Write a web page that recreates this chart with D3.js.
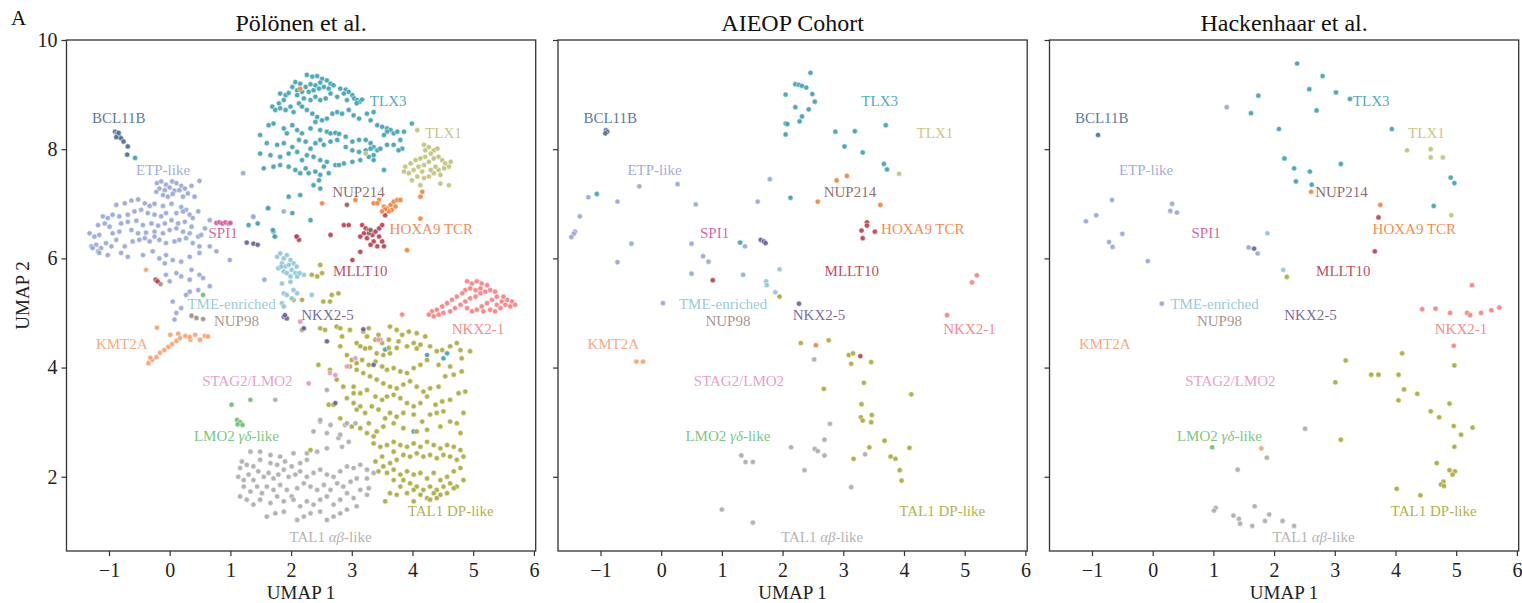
<!DOCTYPE html>
<html>
<head>
<meta charset="utf-8">
<script src="https://cdn.jsdelivr.net/npm/d3@7"></script>
<style>
  html, body { margin: 0; padding: 0; background: #ffffff; }
  svg text { font-family: "Liberation Serif", "Times New Roman", serif; }
</style>
</head>
<body>
<svg id="chart" width="1522" height="603"></svg>
<script>
// ---- axis ticks and titles ----
const xTicks = [-1, 0, 1, 2, 3, 4, 5, 6];
const yTicks = [2, 4, 6, 8, 10];
const panelTitles = ["Pölönen et al.", "AIEOP Cohort", "Hackenhaar et al."];

// ---- subtypes, colours and label anchors (UMAP units) ----
const subtypes = ["ETP-like", "BCL11B", "TLX3", "TLX1", "NUP214", "HOXA9 TCR", "MLLT10", "SPI1",
  "TME-enriched", "NUP98", "NKX2-5", "NKX2-1", "KMT2A", "STAG2/LMO2", "LMO2 γδ-like",
  "TAL1 DP-like", "TAL1 αβ-like"];
const subtypeColors = ["#97a5d5", "#4b6b91", "#3f9fb1", "#bfc17a", "#86605e", "#f2803f", "#b93b4d",
  "#d2549b", "#8dc5d6", "#a48b82", "#6b5a9b", "#f57d80", "#f6a070", "#ea95bc", "#6cbf6f",
  "#a8a93b", "#ababab"];
const labelX = [-0.11, -0.84, 3.60, 4.51, 3.11, 4.31, 3.14, 0.88, 1.02, 1.10, 2.60, 5.08, -0.79, 1.28, 1.10, 4.63, 2.65];
const labelY = [7.62, 8.58, 8.88, 8.29, 7.22, 6.54, 5.77, 6.47, 5.16, 4.85, 4.96, 4.70, 4.43, 3.75, 2.75, 1.38, 0.90];

// ---- Pölönen et al. embedding ----
const p1ETP = [[-0.21,7.38],[-0.14,7.41],[-0.06,7.35],[0.04,7.41],[0.11,7.38],[0.19,7.33],[0.25,7.28],[0.36,7.33],[0.49,7.42],[-0.17,7.28],[-0.08,7.25],[0.00,7.30],[0.08,7.24],[0.16,7.25],[0.30,7.19],[-0.11,7.16],[-0.03,7.13],[0.05,7.18],[0.22,7.13],[0.41,7.13],[-0.22,7.22],
[-0.88,6.98],[-0.74,7.01],[-0.63,7.06],[-0.52,7.08],[-0.41,7.01],[-0.33,6.96],[-0.25,7.00],[-0.11,6.96],[0.03,7.00],[0.19,6.94],[0.27,6.89],[0.47,6.86],
[-1.10,6.77],[-1.02,6.74],[-0.94,6.80],[-0.83,6.77],[-0.69,6.80],[-0.58,6.86],[-0.47,6.89],[-0.36,6.83],[-0.25,6.80],[-0.14,6.77],[-0.06,6.83],[0.11,6.83],[0.22,6.86],[0.33,6.80],[0.38,6.74],
[-1.18,6.61],[-1.07,6.64],[-0.99,6.58],[-0.80,6.64],[-0.69,6.67],[-0.55,6.69],[-0.44,6.61],[-0.30,6.64],[-0.19,6.60],[-0.08,6.64],[0.03,6.70],[0.14,6.64],[0.25,6.67],[0.36,6.58],
[-1.32,6.46],[-1.24,6.40],[-1.16,6.43],[-0.94,6.46],[-0.83,6.49],[-0.63,6.52],[-0.52,6.46],[-0.39,6.47],[-0.25,6.49],[-0.11,6.46],[0.00,6.52],[0.11,6.55],[0.22,6.49],[0.33,6.46],[0.47,6.40],[0.58,6.55],[0.66,6.70],[0.52,6.43],
[-1.29,6.22],[-1.21,6.25],[-1.18,6.13],[-1.13,6.19],[-1.05,6.28],[-0.96,6.22],[-0.88,6.34],[-0.74,6.22],[-0.61,6.31],[-0.50,6.34],[-0.41,6.37],[-0.33,6.31],[-0.25,6.40],[-0.17,6.34],[-0.06,6.28],[0.08,6.31],[0.16,6.34],[0.27,6.37],[0.38,6.28],[0.49,6.22],
[-1.02,6.06],[-0.80,6.10],[-0.69,6.03],[-0.44,6.06],[-0.28,6.13],[-0.17,6.00],[-0.06,6.06],[0.05,5.97],[0.19,5.94],[0.33,6.03],[0.49,6.10],[0.66,6.22],[0.77,6.13],[-0.08,5.91],[0.99,5.97],[-1.27,6.19],[-1.16,6.10],
[-0.06,5.70],[0.00,5.58],[0.11,5.73],[0.19,5.67],[0.33,5.61],[0.36,5.79],[0.49,5.70],[0.55,5.64],[0.66,5.49],[0.47,5.42],[0.33,5.39],[0.27,5.33],[0.05,5.21],[0.19,5.09],[0.11,5.00],[0.08,4.88],
[1.56,5.61],[1.37,6.77],[1.21,7.56],[1.63,6.92],[1.88,6.86],[1.38,6.76]];
const p1BCL11B = [[-0.90,8.32],[-0.87,8.28],[-0.86,8.26],[-0.83,8.23],[-0.88,8.22],[-0.80,8.20],[-0.84,8.30],[-0.76,8.14],[-0.69,8.05],[-0.70,7.90]];
const p1TLX3 = [[2.26,9.36],[2.35,9.33],[2.43,9.34],[2.51,9.29],[2.59,9.26],[2.65,9.20],[2.48,9.22],[2.40,9.17],[2.32,9.19],[2.24,9.14],[2.15,9.20],[2.07,9.23],[2.02,9.14],[2.10,9.08],[2.18,9.05],[2.29,9.05],[2.37,9.08],[2.46,9.11],[2.54,9.14],[2.62,9.11],[2.70,9.17],[2.81,9.11],[2.90,9.09],[2.95,9.05],[3.01,8.99],[3.04,8.93],[3.09,8.90],[3.13,8.87],[3.17,8.91],[3.08,8.84],
[1.82,9.02],[1.91,8.99],[1.96,9.03],[1.88,8.90],[1.80,8.84],[1.69,8.78],[1.74,8.72],[1.82,8.75],[1.91,8.72],[1.99,8.78],[2.04,8.68],[2.13,8.84],[2.21,8.93],[2.32,8.90],[2.40,8.96],[2.48,8.90],[2.57,8.93],[2.65,9.02],[2.76,8.96],[2.87,9.02],[2.92,8.90],[2.10,8.99],
[2.18,8.78],[2.26,8.72],[2.35,8.65],[2.43,8.59],[2.51,8.53],[2.59,8.56],[2.68,8.65],[2.76,8.68],[2.84,8.65],[2.95,8.72],[3.03,8.62],[3.12,8.56],[3.25,8.65],[3.31,8.53],[3.36,8.68],[3.42,8.44],[3.50,8.41],[3.58,8.38],[3.64,8.35],[3.69,8.29],[3.58,8.32],[3.53,8.26],[3.75,8.32],[3.80,8.17],[3.83,8.01],[3.77,7.98],[3.69,8.08],[3.99,8.47],[3.86,8.32],
[1.71,8.47],[1.63,8.44],[1.88,8.38],[1.93,8.29],[2.02,8.44],[2.10,8.35],[2.18,8.29],[2.32,8.38],[2.40,8.50],[2.48,8.35],[2.59,8.32],[2.65,8.29],[2.73,8.30],[2.79,8.28],[2.90,8.23],[3.01,8.14],[3.12,8.17],[3.23,8.17],[3.31,8.11],[3.36,8.04],[3.42,7.98],[3.36,7.89],[3.28,7.86],[3.36,7.80],[3.47,8.01],[3.58,8.08],
[1.49,8.26],[1.60,8.11],[1.77,8.08],[1.88,8.11],[2.02,8.04],[2.13,8.17],[2.24,8.14],[2.32,8.01],[2.40,8.11],[2.48,8.17],[2.54,8.08],[2.65,8.14],[2.76,8.17],[2.90,8.04],[3.01,7.98],[3.12,7.95],[3.23,7.98],[3.31,8.01],
[1.49,7.92],[1.66,7.89],[1.82,7.86],[1.96,7.92],[2.10,7.95],[2.18,7.80],[2.26,7.89],[2.37,7.86],[2.48,7.80],[2.59,7.77],[2.73,7.71],[2.79,7.71],[2.87,7.74],[3.01,7.77],[3.14,7.80],[3.53,7.62],
[1.55,7.65],[1.71,7.68],[1.82,7.71],[1.96,7.68],[2.07,7.62],[2.15,7.56],[2.24,7.65],[2.29,7.56],[2.40,7.59],[2.48,7.53],[2.54,7.68],[2.62,7.56],[2.46,7.43],[2.37,7.34],[2.48,7.28],
[1.96,7.13],[2.15,7.16],[2.02,6.83],[1.71,6.49],[1.74,6.40],[2.10,6.40],[2.32,6.70],[1.30,6.61],
[-0.57,7.84],[1.45,6.64],[1.70,6.52],[1.73,6.40],[1.62,6.92],
[3.55,4.33],[4.24,4.23],[4.51,4.17],[4.57,4.26],[4.02,2.83]];
const p1TLX1 = [[4.08,8.35],[4.19,8.08],[4.27,8.04],[4.35,7.98],[4.30,7.92],[4.21,7.86],[4.13,7.83],[4.05,7.80],[3.97,7.74],[3.88,7.68],[3.86,7.59],[3.94,7.56],[4.02,7.62],[4.10,7.68],[4.19,7.71],[4.27,7.77],[4.35,7.83],[4.43,7.86],[4.49,7.80],[4.54,7.74],[4.60,7.68],[4.63,7.77],[4.52,7.65],[4.43,7.62],[4.35,7.56],[4.27,7.50],[4.19,7.47],[4.08,7.50],[3.99,7.43],[4.46,7.53],[4.38,7.68],[4.30,7.62],[4.16,7.59],[4.46,7.37],[4.60,7.34],[4.13,7.34],[4.21,7.98],[4.41,8.01],[3.23,7.92]];
const p1NUP214 = [[2.92,6.98],[3.28,6.46],[3.31,6.52]];
const p1HOXA9 = [[3.36,7.01],[3.45,7.07],[3.53,6.95],[3.58,6.92],[3.64,6.98],[3.69,7.04],[3.75,7.07],[3.80,7.07],[3.72,6.95],[3.66,6.89],[3.61,6.86],[3.55,6.90],[3.50,6.86],[3.42,7.01],[4.16,7.22],[4.13,7.13],[2.51,7.01],[4.13,6.73],[3.91,6.15],[3.06,7.07],[2.15,9.11]];
const p1MLLT10 = [[3.17,6.61],[3.23,6.55],[3.28,6.52],[3.20,6.46],[3.14,6.40],[3.25,6.37],[3.34,6.43],[3.39,6.49],[3.45,6.55],[3.50,6.61],[3.45,6.40],[3.36,6.31],[3.31,6.25],[3.50,6.31],[3.53,6.22],[3.42,6.22],[3.55,6.79],[2.87,6.61],[2.95,6.61],[2.65,6.43],[2.13,6.34],[3.01,5.97],[3.14,6.12],[-0.23,5.61],[-0.20,5.58],[2.09,6.40]];
const p1SPI1 = [[0.77,6.65],[0.82,6.66],[0.87,6.64],[0.92,6.66],[0.97,6.64],[1.00,6.65]];
const p1TME = [[1.77,6.03],[1.82,6.09],[1.88,6.00],[1.93,6.06],[1.99,5.97],[2.04,5.91],[1.85,5.91],[1.90,5.85],[1.96,5.88],[2.01,5.79],[1.88,5.76],[1.79,5.82],[2.07,5.73],[1.93,5.73],[1.99,5.67],[2.10,5.67],[1.85,5.54],[1.99,5.57],[1.88,5.36],[1.93,5.33],[2.04,5.42],[2.10,5.36],[2.01,5.27],[1.85,5.18],[1.88,5.12],[2.21,5.70],[2.34,5.33],[1.84,5.85],[2.09,5.85],[2.14,5.73]];
const p1NUP98 = [[0.36,4.95],[0.44,4.91],[0.55,4.89],[-0.15,5.53]];
const p1NKX25 = [[1.27,6.29],[1.38,6.27],[1.45,6.25],[1.88,4.93],[1.93,4.90],[1.90,4.96],[2.21,4.72],[3.19,4.70],[3.36,4.05],[2.73,3.35],[2.59,4.48]];
const p1NKX21 = [[4.90,5.58],[4.98,5.54],[5.06,5.58],[5.14,5.54],[5.23,5.51],[5.12,5.45],[5.04,5.42],[4.95,5.45],[4.87,5.42],[4.82,5.36],[4.73,5.30],[4.65,5.24],[4.57,5.18],[4.49,5.12],[4.40,5.06],[4.32,5.03],[4.27,4.97],[4.35,4.94],[4.43,4.97],[4.51,5.00],[4.62,5.03],[4.70,5.09],[4.79,5.15],[4.87,5.21],[4.95,5.27],[5.04,5.30],[5.12,5.36],[5.20,5.39],[5.28,5.42],[5.36,5.39],[5.39,5.30],[5.31,5.24],[5.23,5.18],[5.14,5.12],[5.06,5.06],[4.98,5.03],[4.90,5.09],[5.17,5.03],[5.28,5.06],[5.39,5.15],[5.47,5.21],[5.56,5.24],[5.64,5.21],[5.69,5.15],[5.61,5.12],[5.53,5.15],[5.45,5.09],[5.36,5.03],[5.50,5.30],[3.83,4.97],[3.47,4.51]];
const p1KMT2A = [[-0.35,4.08],[-0.29,4.14],[-0.22,4.19],[-0.16,4.27],[-0.09,4.32],[-0.02,4.38],[0.04,4.43],[0.11,4.49],[0.17,4.54],[0.26,4.58],[0.34,4.51],[0.42,4.60],[0.50,4.51],[0.58,4.58],[-0.21,4.73],[0.01,4.60],[0.14,4.62],[-0.32,4.18],[0.33,4.56],[0.63,4.57],[-0.39,5.79]];
const p1STAG2 = [[2.29,3.71],[2.92,4.02],[3.06,4.17],[2.64,3.90],[2.73,3.86],[3.44,4.51],[2.15,4.84]];
const p1LMO2 = [[1.02,3.32],[1.33,3.41],[1.11,3.04],[1.16,3.00],[1.12,2.96],[1.20,2.95],[0.55,5.33]];
const p1DP = [[2.04,5.24],[2.18,5.24],[2.53,5.21],[2.67,5.33],[2.78,5.36],[2.64,5.21],[2.18,4.69],[2.48,4.72],[2.56,4.69],[2.75,4.75],[2.81,4.72],[2.97,4.69],[2.84,4.57],[3.08,4.45],[3.14,4.39],[3.22,4.35],[3.30,4.36],[3.41,4.26],[3.52,4.23],[3.63,4.26],[3.74,4.36],[3.91,4.39],[4.07,4.35],[2.81,4.39],[2.92,4.23],[3.00,4.14],[3.08,4.08],[3.17,4.14],[3.28,4.05],[3.39,4.11],[3.50,4.02],[3.58,3.96],[3.69,3.99],[3.80,3.93],[3.91,3.90],[4.02,3.99],[4.13,4.05],[4.24,4.14],[4.43,4.05],[4.62,4.02],[4.81,4.17],[4.95,4.30],
[2.97,4.02],[3.08,3.96],[3.19,3.90],[3.30,3.84],[3.41,3.78],[3.52,3.71],[3.63,3.65],[3.74,3.62],[3.85,3.69],[3.96,3.75],[4.07,3.65],[4.18,3.56],[4.29,3.62],[4.43,3.65],[4.54,3.84],[4.68,3.87],[4.81,3.93],[2.64,3.96],[2.45,4.05],[2.75,3.78],[2.86,3.65],[3.03,3.65],[3.14,3.53],[3.25,3.59],[3.39,3.47],[3.50,3.41],[3.58,3.47],[3.69,3.50],[3.80,3.44],[3.91,3.35],[4.02,3.29],[4.13,3.35],[4.24,3.47],[4.38,3.32],[4.49,3.38],[4.62,3.41],[4.76,3.53],[4.87,3.56],
[2.92,3.44],[3.03,3.35],[3.08,3.23],[3.22,3.17],[3.33,3.29],[3.44,3.23],[3.55,3.07],[3.63,3.17],[3.74,3.10],[3.85,3.17],[4.02,3.14],[4.16,3.01],[4.29,3.14],[4.40,3.17],[4.51,3.20],[4.62,3.01],[4.73,2.98],[4.84,3.17],[2.62,3.32],[2.81,3.07],[3.00,2.92],[3.14,2.89],[3.25,2.80],[3.41,2.83],[3.52,2.92],[3.69,2.98],[3.85,2.89],[4.07,2.83],[4.24,2.86],[4.46,2.92],[4.79,2.80],
[3.74,4.69],[3.63,4.75],[3.83,4.60],[3.94,4.66],[4.07,4.63],[4.21,4.57],[3.61,4.51],[3.77,4.48],[4.02,4.45],[3.61,4.36],[3.50,4.45],[3.39,4.51],[3.25,4.57],[3.19,4.66],[3.28,4.72],[3.44,4.60],[4.13,4.42],[4.29,4.39],[4.40,4.30],[4.49,4.32],[4.62,4.39],[4.73,4.45],[4.79,4.32],
[3.36,2.61],[3.47,2.55],[3.58,2.58],[3.69,2.64],[3.80,2.58],[3.91,2.55],[4.02,2.61],[4.13,2.55],[4.24,2.64],[4.35,2.58],[4.46,2.52],[4.57,2.58],[4.68,2.55],[4.79,2.49],[4.84,2.37],[4.73,2.31],[4.62,2.37],[4.51,2.40],[4.40,2.34],[4.29,2.40],[4.18,2.37],[4.07,2.43],[3.96,2.37],[3.85,2.40],[3.74,2.31],[3.63,2.25],[3.52,2.19],[3.44,2.10],[3.58,2.07],[3.69,2.13],[3.80,2.04],[3.91,2.10],[4.02,2.04],[4.13,2.07],[4.24,1.97],[4.35,2.07],[4.46,1.94],[4.57,2.00],[4.68,2.10],[4.79,2.16],[4.84,1.94],[4.73,1.82],[4.62,1.88],[4.51,1.82],[4.40,1.76],[4.29,1.82],[4.18,1.76],[4.07,1.82],[3.96,1.88],[3.85,1.94],[3.80,1.82],[3.69,1.94],[3.63,1.70],[3.74,1.67],[3.91,1.70],[4.02,1.76],[4.13,1.67],[4.24,1.61],[4.35,1.70],[4.46,1.67],[4.57,1.70],[4.68,1.79],[3.55,1.55],[4.02,1.55],[4.29,1.58],[4.40,1.61],[3.39,2.28],[3.50,2.37],[3.69,2.46],
[2.70,3.32],[3.14,3.29],[3.03,3.53],[3.28,2.98],[3.36,2.74],[2.32,2.49],[2.48,5.88],[2.51,5.73],[2.34,5.70],[2.43,5.67]];
const p1AB = [[2.48,3.01],[2.65,2.95],[2.89,2.95],[3.06,2.98],[2.37,2.83],[2.59,2.80],[2.78,2.71],[2.95,2.64],[2.84,2.55],[2.59,2.52],[2.43,2.46],[2.26,2.43],[2.04,2.43],[1.82,2.37],[1.66,2.40],[1.49,2.46],[1.33,2.46],[2.26,2.31],[2.15,2.25],[2.01,2.19],[1.90,2.28],[1.77,2.22],[1.66,2.25],[1.49,2.31],[1.38,2.19],[1.27,2.22],[1.16,2.16],
[1.13,2.00],[1.22,1.94],[1.30,2.04],[1.38,1.94],[1.46,2.10],[1.55,2.00],[1.63,2.07],[1.71,1.97],[1.79,2.04],[1.88,2.13],[1.96,2.00],[2.07,2.04],[2.15,2.10],[2.26,2.00],[2.37,2.07],[2.48,2.13],[2.59,2.04],[2.70,2.00],[2.81,2.10],[2.92,2.19],[3.03,2.16],[3.14,2.22],[3.25,2.13],[3.36,2.07],
[1.22,1.82],[1.33,1.73],[1.44,1.82],[1.52,1.70],[1.60,1.82],[1.71,1.76],[1.82,1.85],[1.93,1.76],[2.01,1.64],[2.10,1.79],[2.21,1.88],[2.32,1.82],[2.43,1.76],[2.54,1.85],[2.65,1.76],[2.76,1.88],[2.86,1.82],[2.98,1.91],[3.08,1.97],
[1.16,1.64],[1.27,1.58],[1.38,1.49],[1.49,1.58],[1.66,1.52],[1.77,1.64],[1.88,1.55],[2.04,1.58],[2.15,1.46],[2.26,1.55],[2.37,1.49],[2.48,1.58],[2.59,1.64],[2.70,1.49],[2.81,1.58],[2.92,1.70],[3.03,1.61],[3.14,1.76],[3.28,1.79],
[1.60,1.27],[1.74,1.33],[1.88,1.36],[2.10,1.21],[2.21,1.27],[2.32,1.33],[2.48,1.36],[2.59,1.21],[2.70,1.27],[2.81,1.33],[2.92,1.40],[3.08,1.46],[3.25,1.67],[3.25,1.97],[1.19,2.28],
[2.59,3.59],[2.48,3.04],[2.92,2.98],[1.74,3.41],[2.81,2.77]];

// ---- AIEOP cohort embedding ----
const p2ETP = [[1.79,7.45],[-0.36,7.32],[0.27,7.36],[-0.72,7.04],[0.57,6.99],[1.59,7.04],[-1.20,7.12],[-1.34,6.77],[-1.42,6.49],[-1.44,6.45],[-1.48,6.39],[-0.49,6.27],[0.50,6.27],[0.69,6.04],[0.78,5.94],[-0.72,5.93],[0.50,5.72],[1.35,5.70],[0.03,5.18],[1.38,6.22]];
const p2BCL11B = [[-0.91,8.35],[-0.89,8.32],[-0.92,8.29]];
const p2TLX3 = [[2.46,9.40],[2.21,9.19],[2.27,9.18],[2.32,9.16],[2.39,9.13],[2.05,9.00],[2.49,9.01],[2.53,8.87],[2.21,8.77],[2.43,8.73],[2.32,8.60],[2.28,8.51],[2.05,8.47],[2.08,8.46],[2.05,8.27],[2.87,8.32],[3.19,8.33],[3.70,8.44],[3.02,8.05],[3.32,7.94],[3.67,7.73],[3.72,7.63],[-1.06,7.18],[2.13,7.11],[1.30,6.29]];
const p2TLX1 = [[3.92,7.55]];
const p2HOXA9 = [[2.89,7.43],[3.06,7.51],[2.58,7.04],[3.61,6.98],[2.55,4.41]];
const p2MLLT10 = [[0.85,5.60],[3.28,4.21],[3.39,6.66],[3.39,6.60],[3.30,6.51],[3.32,6.37],[3.52,6.49]];
const p2TME = [[1.95,5.80],[1.73,5.58],[1.74,5.51],[1.88,5.38]];
const p2NKX25 = [[1.64,6.34],[1.69,6.31],[1.72,6.28],[2.27,5.17]];
const p2NKX21 = [[5.20,5.69],[5.12,5.56],[4.71,4.96]];
const p2KMT2A = [[-0.41,4.11],[-0.30,4.11]];
const p2DP = [[1.95,5.30],[2.30,4.45],[2.76,4.50],[3.09,4.23],[3.16,4.26],[3.13,4.07],[3.46,4.10],[3.34,3.72],[2.68,3.61],[4.12,3.51],[3.30,3.33],[3.29,3.09],[3.32,3.03],[3.47,3.13],[3.46,3.00],[3.68,2.66],[3.43,2.54],[4.09,2.53],[3.17,2.33],[3.78,2.37],[3.86,2.33],[3.93,2.12],[3.96,1.93]];
const p2AB = [[2.52,4.15],[2.78,2.97],[2.69,2.68],[2.14,2.54],[2.53,2.51],[2.58,2.47],[2.69,2.39],[1.32,2.39],[1.39,2.27],[1.51,2.27],[2.36,2.12],[3.36,2.41],[3.13,1.81],[1.00,1.40],[1.51,1.16]];

// ---- Hackenhaar et al. embedding ----
const p3ETP = [[1.22,8.77],[-0.67,7.07],[-0.93,6.79],[-1.10,6.68],[0.32,7.00],[0.29,6.87],[0.40,6.84],[-0.50,6.45],[-0.72,6.30],[-0.66,6.21],[-0.08,5.95],[0.15,5.17],[1.58,6.20],[1.73,6.09]];
const p3BCL11B = [[-0.90,8.26]];
const p3TLX3 = [[2.38,9.57],[2.80,9.34],[2.58,9.10],[3.02,9.04],[3.25,8.92],[1.74,8.98],[2.70,8.71],[1.62,8.66],[2.08,8.37],[3.94,8.37],[2.17,7.83],[2.33,7.65],[2.59,7.59],[3.10,7.73],[2.36,7.41],[2.62,7.35],[4.91,7.48],[4.97,7.38],[4.63,6.96]];
const p3TLX1 = [[4.19,7.98],[4.58,8.00],[4.58,7.85],[4.78,7.85],[4.92,6.79]];
const p3HOXA9 = [[2.61,7.22],[3.75,6.98]];
const p3MLLT10 = [[3.72,6.75],[3.66,6.13]];
const p3TME = [[1.89,6.46],[2.15,5.79]];
const p3NKX25 = [[1.67,6.18]];
const p3NKX21 = [[5.26,5.51],[4.44,5.07],[4.66,5.08],[4.90,5.00],[5.18,5.00],[5.23,4.96],[5.41,5.00],[5.58,5.05],[5.71,5.10],[4.96,4.40]];
const p3KMT2A = [[1.79,2.52]];
const p3LMO2 = [[0.98,2.54]];
const p3DP = [[2.21,5.66],[3.18,4.13],[4.11,4.26],[3.60,3.87],[3.72,3.87],[4.05,3.87],[3.01,3.73],[4.14,3.60],[4.36,3.52],[4.05,3.40],[4.58,3.20],[4.72,3.09],[4.89,3.34],[4.96,2.93],[5.27,2.90],[5.08,2.77],[4.97,2.55],[3.10,2.68],[4.68,2.25],[4.89,2.12],[4.98,2.10],[4.94,2.04],[4.79,1.91],[4.75,1.86],[4.80,1.83],[4.02,1.78],[4.41,1.66],[4.97,4.04]];
const p3AB = [[2.51,2.88],[1.88,2.35],[1.40,2.13],[1.04,1.43],[1.01,1.38],[1.68,1.46],[1.33,1.29],[1.42,1.23],[1.44,1.14],[1.64,1.10],[1.92,1.31],[1.85,1.19],[2.14,1.19],[2.33,1.10]];

// groups listed in the same order as `subtypes`
const panelGroups = [
  [p1ETP, p1BCL11B, p1TLX3, p1TLX1, p1NUP214, p1HOXA9, p1MLLT10, p1SPI1, p1TME, p1NUP98, p1NKX25, p1NKX21, p1KMT2A, p1STAG2, p1LMO2, p1DP, p1AB],
  [p2ETP, p2BCL11B, p2TLX3, p2TLX1, [], p2HOXA9, p2MLLT10, [], p2TME, [], p2NKX25, p2NKX21, p2KMT2A, [], [], p2DP, p2AB],
  [p3ETP, p3BCL11B, p3TLX3, p3TLX1, [], p3HOXA9, p3MLLT10, [], p3TME, [], p3NKX25, p3NKX21, p3KMT2A, [], p3LMO2, p3DP, p3AB]
];
// drawing order: large clouds first, small groups on top
const drawOrder = [0, 2, 16, 15, 11, 3, 8, 1, 7, 9, 10, 12, 13, 14, 6, 5, 4];

// ---- layout ----
const svg = d3.select("#chart");
const panelLeft = [66.5, 558, 1049.5];
const panelWidth = 469.2;
const plotTop = 40, plotBottom = 551;
const xDomain = [-1.70, 6.03];
const yDomain = [0.64, 10.0];
const axisColor = "#333333";
const fmt = d => (d < 0 ? "\u2212" + Math.abs(d) : String(d));

svg.append("text").attr("x", 11).attr("y", 25).attr("font-size", 21).attr("fill", "#111").text("A");

panelGroups.forEach((groups, pi) => {
  const x = d3.scaleLinear().domain(xDomain).range([panelLeft[pi], panelLeft[pi] + panelWidth]);
  const y = d3.scaleLinear().domain(yDomain).range([plotBottom, plotTop]);
  const g = svg.append("g");

  // scatter points
  const pts = g.append("g");
  drawOrder.forEach(si => {
    pts.selectAll(null).data(groups[si]).join("circle")
      .attr("cx", d => x(d[0])).attr("cy", d => y(d[1])).attr("r", 2.6)
      .attr("fill", subtypeColors[si]).attr("fill-opacity", 0.9)
      .attr("stroke", "#ffffff").attr("stroke-width", 0.5);
  });

  // subtype labels
  const labels = g.append("g").attr("font-size", 15).attr("text-anchor", "middle");
  subtypes.forEach((name, si) => {
    const t = labels.append("text")
      .attr("x", x(labelX[si])).attr("y", y(labelY[si])).attr("dy", "0.34em")
      .attr("fill", subtypeColors[si]).attr("fill-opacity", 0.92);
    const m = name.match(/^(.*?)([αβγδ]+)(.*)$/);
    if (m) {
      t.append("tspan").text(m[1]);
      t.append("tspan").attr("font-style", "italic").text(m[2]);
      t.append("tspan").text(m[3]);
    } else {
      t.text(name);
    }
  });

  // frame
  g.append("rect").attr("x", panelLeft[pi]).attr("y", plotTop)
    .attr("width", panelWidth).attr("height", plotBottom - plotTop)
    .attr("fill", "none").attr("stroke", axisColor).attr("stroke-width", 1.3);

  // x axis
  const xa = g.append("g").attr("transform", `translate(0,${plotBottom})`)
    .call(d3.axisBottom(x).tickValues(xTicks).tickSize(5).tickPadding(7).tickFormat(fmt));
  xa.select(".domain").remove();
  xa.selectAll("line").attr("stroke", axisColor).attr("stroke-width", 1.2);
  xa.selectAll("text").attr("font-size", 20).attr("fill", "#222").attr("font-family", null);

  // y axis (labels only on the first panel)
  const ya = g.append("g").attr("transform", `translate(${panelLeft[pi]},0)`)
    .call(d3.axisLeft(y).tickValues(yTicks).tickSize(5).tickPadding(4).tickFormat(pi === 0 ? fmt : () => ""));
  ya.select(".domain").remove();
  ya.selectAll("line").attr("stroke", axisColor).attr("stroke-width", 1.2);
  ya.selectAll("text").attr("font-size", 20).attr("fill", "#222").attr("font-family", null);

  // titles
  const cx = panelLeft[pi] + panelWidth / 2;
  g.append("text").attr("x", cx).attr("y", 31).attr("text-anchor", "middle")
    .attr("font-size", 24).attr("fill", "#111").text(panelTitles[pi]);
  g.append("text").attr("x", cx).attr("y", 599).attr("text-anchor", "middle")
    .attr("font-size", 19).attr("fill", "#222").text("UMAP 1");
});

svg.append("text").attr("transform", `translate(29,${(plotTop + plotBottom) / 2}) rotate(-90)`)
  .attr("text-anchor", "middle").attr("font-size", 19).attr("fill", "#222").text("UMAP 2");
</script>
</body>
</html>
